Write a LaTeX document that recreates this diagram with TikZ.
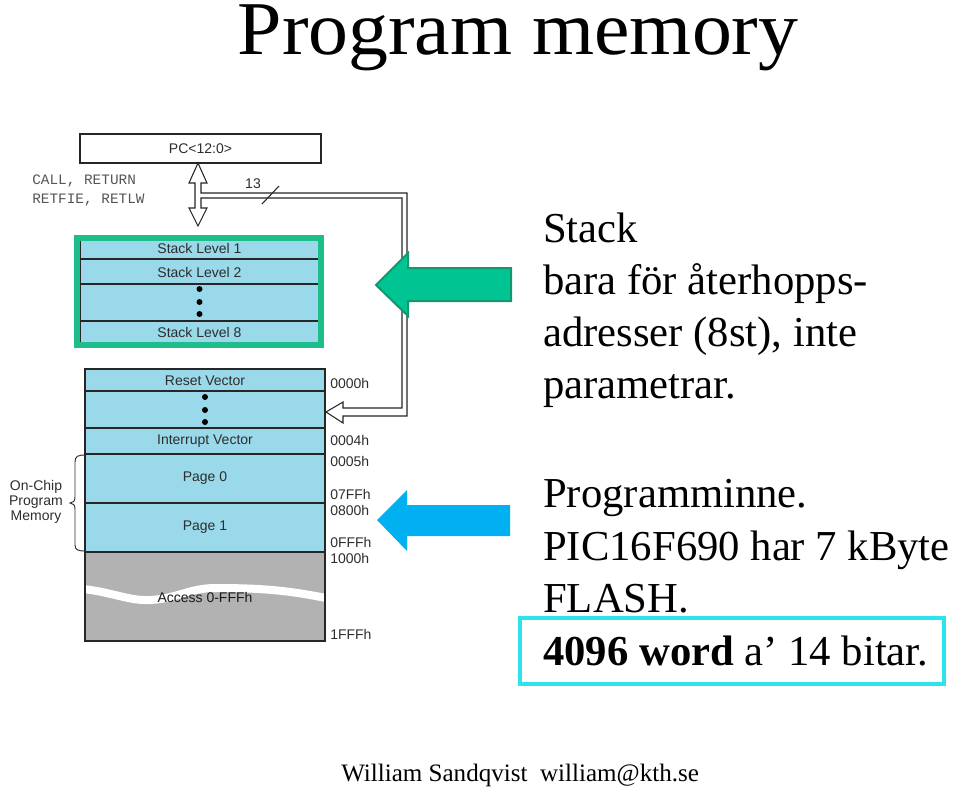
\documentclass[tikz,border=0pt]{standalone}
\usepackage{fontspec}
\setmainfont{Liberation Serif}
\newfontfamily\arialf{Liberation Sans}
\newfontfamily\courf{Liberation Mono}
\definecolor{cellblue}{RGB}{153,217,234}
\definecolor{stackgreen}{RGB}{30,190,140}
\definecolor{arrgreen}{RGB}{0,196,146}
\definecolor{arrgreenedge}{RGB}{20,150,110}
\definecolor{arrblue}{RGB}{0,176,240}
\definecolor{boxcyan}{RGB}{45,228,238}
\definecolor{memgray}{RGB}{178,178,178}
\definecolor{txtgray}{RGB}{45,45,45}
\definecolor{monogray}{RGB}{85,85,85}
\tikzset{
  lbl/.style={font=\arialf\fontsize{10.5}{12}\selectfont, text=txtgray, inner sep=0pt},
  addr/.style={lbl, anchor=west},
  mono/.style={font=\courf\fontsize{10.8}{12}\selectfont, text=monogray, inner sep=0pt, anchor=west},
  big/.style={font=\fontsize{32}{38}\selectfont, inner sep=0pt, anchor=base west},
  cell/.style={draw=black!85, line width=0.9pt},
}
\begin{document}
\begin{tikzpicture}[x=0.75pt,y=-0.75pt]
\useasboundingbox (0,0) rectangle (960,786);
% title
\node[font=\fontsize{57}{66}\selectfont, inner sep=0pt, anchor=base] (title) at (518,54) {\scalebox{1.05}[1]{Program memory}};

% PC box
\node[draw=black!85, line width=0.9pt, minimum width=241*0.75pt, minimum height=29*0.75pt, inner sep=0pt, font=\arialf\fontsize{10.5}{12}\selectfont, text=txtgray] (pc) at (200.5,148.5) {PC<12:0>};
\node[mono] (call) at (32,181) {CALL, RETURN};
\node[mono] (retfie) at (32,200) {RETFIE, RETLW};

% stack
\fill[cellblue] (77,238) rectangle (322,345);
\draw[cell] (80,238) rectangle (319,345);
\draw[cell] (80,259) -- (319,259);
\draw[cell] (80,284) -- (319,284);
\draw[cell] (80,321) -- (319,321);
\draw[stackgreen, line width=4.5pt] (77,238) rectangle (321,345);
\node[lbl] (s1) at (199.5,248.5) {Stack Level 1};
\node[lbl] (s2) at (199.5,272) {Stack Level 2};
\node[lbl] (s8) at (199.5,332.5) {Stack Level 8};
\foreach \yy in {289,302,314} \fill (199.5,\yy) circle (3);

% memory
\fill[cellblue] (85,369) rectangle (325,552);
\fill[memgray] (85,552) rectangle (325,641);
\begin{scope}
\clip (85,552) rectangle (325,641);
\draw[white, line width=6pt] (70,588) .. controls (110,590) and (125,601) .. (150,600) .. controls (175,599) and (190,588) .. (215,588) .. controls (260,588) and (290,590) .. (335,600);
\end{scope}
\draw[cell] (85,369) rectangle (325,641);
\foreach \yy in {391,428,454,503,552} \draw[cell] (85,\yy) -- (325,\yy);
\node[lbl] (rv) at (205,381) {Reset Vector};
\foreach \yy in {397,410,422} \fill (205,\yy) circle (3);
\node[lbl] (iv) at (205,441) {Interrupt Vector};
\node[lbl] (p0) at (205,478) {Page 0};
\node[lbl] (p1) at (205,527) {Page 1};
\node[lbl, text=black!90] (acc) at (205,597) {Access 0-FFFh};

\node[addr] (a0) at (330,383) {0000h};
\node[addr] (a4) at (330,440) {0004h};
\node[addr] (a5) at (330,461) {0005h};
\node[addr] (a7) at (330,494) {07FFh};
\node[addr] (a8) at (330,510) {0800h};
\node[addr] (af) at (330,542) {0FFFh};
\node[addr] (a10) at (330,558) {1000h};
\node[addr] (a1f) at (330,634) {1FFFh};

% brace
\draw[txtgray, line width=0.7pt] (86,455) .. controls (78,455) and (75,456) .. (75,462) -- (75,497) .. controls (75,501) and (73,503) .. (70,503) .. controls (73,503) and (75,505) .. (75,509) -- (75,545) .. controls (75,550) and (78,551) .. (86,551);
\node[lbl, align=center, font=\arialf\fontsize{10.5}{12}\selectfont] (ocp) at (36,502) {On-Chip\\[-0.6pt]Program\\[-0.6pt]Memory};

% PC double arrow and feedback path
\draw[black!85, line width=0.8pt, fill=white]
 (201,193) -- (201,183) -- (207,183) -- (198,163) -- (189,183) -- (195,183) -- (195,208) -- (189,208) -- (198,226) -- (207,208) -- (201,208) -- (201,198)
 -- (402,198) -- (402,408) -- (343,408) -- (343,402) -- (326,412) -- (343,423) -- (343,416) -- (407,416) -- (407,193) -- cycle;
\coordinate (tipmem) at (326,412);
\node[lbl] (n13) at (253,184) {13};
\draw[black!85, line width=0.8pt] (262,204) -- (279,186);

% arrows
\draw[arrgreenedge, line width=1.5pt, fill=arrgreen] (376,285) -- (408,253) -- (408,268) -- (511,268) -- (511,301) -- (408,301) -- (408,316) -- cycle;
\fill[arrblue] (377,520) -- (407,490) -- (407,505) -- (510,505) -- (510,536) -- (407,536) -- (407,551) -- cycle;

% right text
\node[big] (t1) at (543,242) {Stack};
\node[big] (t2) at (543,294) {bara för återhopps-};
\node[big] (t3) at (543,346) {adresser (8st), inte};
\node[big] (t4) at (543,398) {parametrar.};
\node[big] (t5) at (543,507) {Programminne.};
\node[big] (t6) at (543,560) {PIC16F690 har 7 kByte};
\node[big] (t7) at (543,612) {FLASH.};
\node[big] (t8) at (543,665) {\textbf{4096 word} a’ 14 bitar.};
\draw[boxcyan, line width=2.3pt] (520,618) rectangle (944,684);

% footer
\node[font=\fontsize{18.8}{22}\selectfont, inner sep=0pt, anchor=base west] (foot) at (341,781) {William Sandqvist\ \ william@kth.se};
\end{tikzpicture}
\end{document}
